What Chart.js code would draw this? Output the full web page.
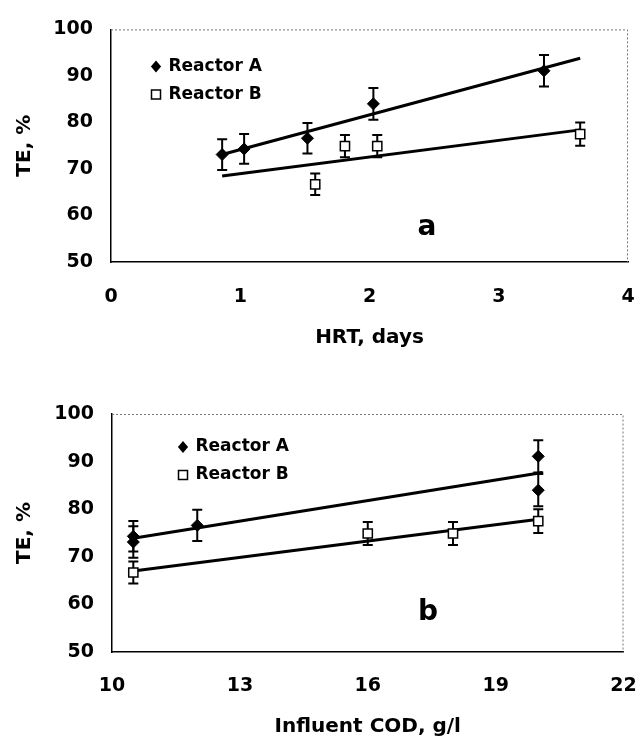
<!DOCTYPE html>
<html><head><meta charset="utf-8">
<script src="https://cdn.jsdelivr.net/npm/chart.js@4.4.0/dist/chart.umd.min.js"></script>
<style>
html,body{margin:0;padding:0;background:#fff;}
canvas{display:block;}
</style></head><body>
<canvas id="c1" width="636" height="370"></canvas>
<canvas id="c2" width="636" height="369"></canvas>
<script>
const FONT = "'DejaVu Sans', sans-serif";

// ---- Panel a: TE vs HRT ----
const hrtReactorA = [0.86, 1.03, 1.52, 2.03, 3.35];
const teReactorA_hrt = [73.1, 74.3, 76.6, 84.0, 91.1];
const errReactorA_hrt = [3.3, 3.2, 3.3, 3.4, 3.4];
const hrtReactorB = [1.58, 1.81, 2.06, 3.63];
const teReactorB_hrt = [66.7, 74.9, 74.9, 77.5];
const errReactorB_hrt = [2.3, 2.4, 2.4, 2.5];
const fitHrtX = [0.86, 3.63];
const fitA_hrtY = [73.1, 93.8];
const fitB_hrtY = [68.5, 78.4];
const hrtTicks = [0, 1, 2, 3, 4];

// ---- Panel b: TE vs influent COD ----
const codReactorA = [10.5, 10.5, 12, 20, 20];
const teReactorA_cod = [73.1, 74.3, 76.6, 84.0, 91.1];
const errReactorA_cod = [3.3, 3.2, 3.3, 3.4, 3.4];
const codReactorB = [10.5, 16, 18, 20];
const teReactorB_cod = [66.7, 74.9, 74.9, 77.5];
const errReactorB_cod = [2.3, 2.4, 2.4, 2.5];
const fitCodX = [10.5, 20.1];
const fitA_codY = [73.9, 87.7];
const fitB_codY = [67.0, 78.0];
const codTicks = [10, 13, 16, 19, 22];

const teTicks = [50, 60, 70, 80, 90, 100];
const seriesNames = ['Reactor A', 'Reactor B'];

function pts(xs, ys) { return xs.map((x, i) => ({ x: x, y: ys[i] })); }

const errorBarPlugin = {
  id: 'errorBars',
  beforeDatasetsDraw(chart) {
    const { ctx } = chart;
    const xs = chart.scales.x, ys = chart.scales.y;
    ctx.save();
    ctx.strokeStyle = '#000';
    ctx.lineWidth = 2;
    chart.data.datasets.forEach(ds => {
      if (!ds.errors) return;
      ds.data.forEach((p, j) => {
        const px = xs.getPixelForValue(p.x);
        const t = ys.getPixelForValue(p.y + ds.errors[j]);
        const b = ys.getPixelForValue(p.y - ds.errors[j]);
        ctx.beginPath();
        ctx.moveTo(px, t); ctx.lineTo(px, b);
        ctx.moveTo(px - 5, t); ctx.lineTo(px + 5, t);
        ctx.moveTo(px - 5, b); ctx.lineTo(px + 5, b);
        ctx.stroke();
      });
    });
    ctx.restore();
  }
};

const framePlugin = {
  id: 'frame',
  afterDatasetsDraw(chart) {
    const { ctx, chartArea: a } = chart;
    ctx.save();
    ctx.strokeStyle = '#777';
    ctx.lineWidth = 1;
    ctx.setLineDash([2, 2]);
    ctx.beginPath();
    ctx.moveTo(a.left, a.top + 0.5);
    ctx.lineTo(a.right - 0.5, a.top + 0.5);
    ctx.lineTo(a.right - 0.5, a.bottom);
    ctx.stroke();
    ctx.restore();
  }
};

const insideLegendPlugin = {
  id: 'insideLegend',
  afterDraw(chart, args, opts) {
    const { ctx, chartArea: a } = chart;
    ctx.save();
    const items = chart.data.datasets.filter(d => d.inLegend);
    items.forEach((ds, k) => {
      const mx = a.left + opts.dx;
      const my = a.top + opts.dy + k * opts.step;
      ctx.fillStyle = ds.backgroundColor;
      ctx.strokeStyle = ds.borderColor;
      ctx.lineWidth = ds.borderWidth;
      ctx.beginPath();
      if (ds.pointStyle === 'rectRot') {
        const r = 6;
        ctx.moveTo(mx, my - r); ctx.lineTo(mx + r * 0.85, my);
        ctx.lineTo(mx, my + r); ctx.lineTo(mx - r * 0.85, my);
        ctx.closePath();
        ctx.fill();
      } else {
        const s = 4.5;
        ctx.rect(mx - s, my - s, 2 * s, 2 * s);
        ctx.fill();
        ctx.stroke();
      }
      ctx.fillStyle = '#000';
      ctx.font = 'bold 17px ' + FONT;
      ctx.textBaseline = 'middle';
      ctx.textAlign = 'left';
      ctx.fillText(ds.label, mx + opts.textGap, my);
    });
    ctx.restore();
  }
};

const panelLabelPlugin = {
  id: 'panelLabel',
  afterDraw(chart, args, opts) {
    const { ctx, chartArea: a } = chart;
    ctx.save();
    ctx.fillStyle = '#000';
    ctx.font = 'bold 28px ' + FONT;
    ctx.textAlign = 'center';
    ctx.textBaseline = 'alphabetic';
    ctx.fillText(opts.text, a.left + opts.dx, a.top + opts.dy);
    ctx.restore();
  }
};

function makeChart(id, cfg) {
  const tickFont = { family: FONT, size: 19, weight: 'bold' };
  const titleFont = { family: FONT, size: 20, weight: 'bold' };
  return new Chart(document.getElementById(id), {
    type: 'scatter',
    data: {
      datasets: [
        { label: seriesNames[0], data: pts(cfg.xA, cfg.yA), errors: cfg.eA, inLegend: true,
          pointStyle: 'rectRot', pointRadius: 6, backgroundColor: '#000', borderColor: '#000', borderWidth: 1 },
        { label: seriesNames[1], data: pts(cfg.xB, cfg.yB), errors: cfg.eB, inLegend: true,
          pointStyle: 'rect', pointRadius: 6.5, backgroundColor: '#fff', borderColor: '#000', borderWidth: 1.5 },
        { label: 'fitA', data: pts(cfg.fitX, cfg.fitA), showLine: true, pointRadius: 0,
          borderColor: '#000', borderWidth: 3, backgroundColor: '#000' },
        { label: 'fitB', data: pts(cfg.fitX, cfg.fitB), showLine: true, pointRadius: 0,
          borderColor: '#000', borderWidth: 3, backgroundColor: '#000' }
      ]
    },
    options: {
      responsive: false,
      animation: false,
      events: [],
      layout: { padding: { top: cfg.padTop, right: cfg.padRight, left: 0, bottom: 0 } },
      plugins: {
        legend: { display: false },
        tooltip: { enabled: false },
        insideLegend: { dx: cfg.legDx, dy: cfg.legDy, step: 28, textGap: 12.5 },
        panelLabel: { text: cfg.panel, dx: 316, dy: 206 }
      },
      scales: {
        x: {
          type: 'linear', min: cfg.xTicks[0], max: cfg.xTicks[cfg.xTicks.length - 1],
          afterBuildTicks: s => { s.ticks = cfg.xTicks.map(v => ({ value: v })); },
          afterFit: s => { s.height = cfg.xHeight; s.paddingRight = 0; s.paddingLeft = 0; },
          grid: { display: false, drawTicks: false },
          border: { display: true, color: '#000', width: 1.5 },
          ticks: { color: '#000', font: tickFont, padding: cfg.xTickPad, maxRotation: 0, autoSkip: false },
          title: { display: true, text: cfg.xTitle, color: '#000', font: titleFont,
                   padding: { top: 0, bottom: cfg.xTitlePad } }
        },
        y: {
          type: 'linear', min: 50, max: 100,
          afterBuildTicks: s => { s.ticks = teTicks.map(v => ({ value: v })); },
          afterFit: s => { s.width = cfg.yWidth; },
          grid: { display: false, drawTicks: false },
          border: { display: true, color: '#000', width: 1.5 },
          ticks: { color: '#000', font: tickFont, padding: 18 },
          title: { display: true, text: 'TE, %', color: '#000', font: titleFont,
                   padding: { top: 13, bottom: 0 } }
        }
      }
    },
    plugins: [errorBarPlugin, framePlugin, insideLegendPlugin, panelLabelPlugin]
  });
}

makeChart('c1', {
  xA: hrtReactorA, yA: teReactorA_hrt, eA: errReactorA_hrt,
  xB: hrtReactorB, yB: teReactorB_hrt, eB: errReactorB_hrt,
  fitX: fitHrtX, fitA: fitA_hrtY, fitB: fitB_hrtY,
  xTicks: hrtTicks, xTitle: 'HRT, days', panel: 'a',
  padTop: 24, padRight: 6, xHeight: 108, yWidth: 111, xTitlePad: 20, xTickPad: 24,
  legDx: 45, legDy: 37
});

makeChart('c2', {
  xA: codReactorA, yA: teReactorA_cod, eA: errReactorA_cod,
  xB: codReactorB, yB: teReactorB_cod, eB: errReactorB_cod,
  fitX: fitCodX, fitA: fitA_codY, fitB: fitB_codY,
  xTicks: codTicks, xTitle: 'Influent COD, g/l', panel: 'b',
  padTop: 44, padRight: 12.5, xHeight: 87, yWidth: 112, xTitlePad: 0, xTickPad: 23,
  legDx: 71, legDy: 33
});
</script>
</body></html>
